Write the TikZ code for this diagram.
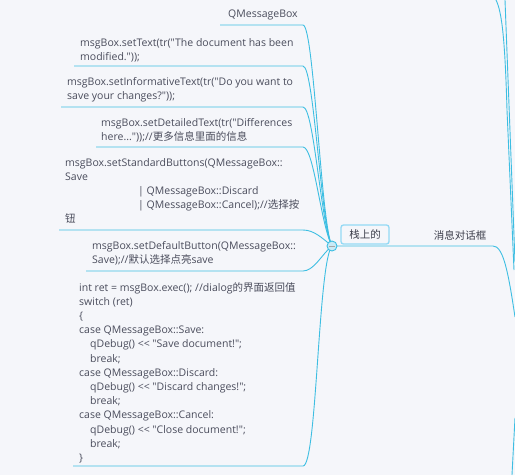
\documentclass[tikz,border=0pt]{standalone}
\usepackage{fontspec}
\setmainfont{Open Sans}[Ligatures=TeXOff]
\newfontfamily\cjk{Noto Sans CJK SC}
\newcommand\zh[1]{{\cjk #1}}
\definecolor{bgc}{HTML}{F5F6FA}
\definecolor{linec}{HTML}{3DBEE2}
\definecolor{textc}{HTML}{4A4C5C}
\definecolor{boxc}{HTML}{93D9F5}
\definecolor{jfill}{HTML}{C9EAF6}
\begin{document}
\begin{tikzpicture}[x=1pt,y=-1pt,
  txt/.style={anchor=north west, inner sep=0pt, align=left, font=\fontsize{10.5}{14.2}\selectfont, text=textc},
  link/.style={draw=linec, line width=0.9pt},
  topic/.style={draw=boxc, line width=1.3pt, rounded corners=2.5pt, minimum width=48pt, minimum height=19pt, inner sep=0pt, font=\cjk\fontsize{10.5}{12}\selectfont, text=textc!80!black},
  plain/.style={inner sep=0pt, font=\cjk\fontsize{10.5}{12}\selectfont, text=textc!80!black}]
\useasboundingbox (0,0) rectangle (515,475);
\fill[bgc] (0,0) rectangle (515,475);

% text blocks
\node[txt] (n1) at (228,9.5) {QMessageBox};
\node[txt] (n2) at (80,38) {msgBox.setText(tr("The document has been\\modified."));};
\node[txt] (n3) at (67,77) {msgBox.setInformativeText(tr("Do you want to\\save your changes?"));};
\node[txt] (n4) at (101,118) {msgBox.setDetailedText(tr("Differences\\here..."));//\zh{更多信息里面的信息}};
\node[txt] (n5) at (65,158) {msgBox.setStandardButtons(QMessageBox::\\Save\\\hspace*{73pt}| QMessageBox::Discard\\\hspace*{73pt}| QMessageBox::Cancel);//\zh{选择按}\\\zh{钮}};
\node[txt] (n6) at (92,241) {msgBox.setDefaultButton(QMessageBox::\\Save);//\zh{默认选择点亮}save};
\node[txt] (n7) at (79,282) {int ret = msgBox.exec(); //dialog\zh{的界面返回值}\\switch (ret)\\\{\\case QMessageBox::Save:\\\hspace*{11pt}qDebug() {<}{<} "Save document!";\\\hspace*{11pt}break;\\case QMessageBox::Discard:\\\hspace*{11pt}qDebug() {<}{<} "Discard changes!";\\\hspace*{11pt}break;\\case QMessageBox::Cancel:\\\hspace*{11pt}qDebug() {<}{<} "Close document!";\\\hspace*{11pt}break;\\\}};

% underline coordinates
\coordinate (J) at (332,246);
\coordinate (u1s) at (220,25);  \coordinate (u1e) at (303,25);
\coordinate (u2s) at (74,66);   \coordinate (u2e) at (303,66);
\coordinate (u3s) at (61,107);  \coordinate (u3e) at (303,107);
\coordinate (u4s) at (96,147);  \coordinate (u4e) at (303,147);
\coordinate (u5s) at (59,230);  \coordinate (u5e) at (303,230);
\coordinate (u6s) at (86,271);  \coordinate (u6e) at (303,271);
\coordinate (u7s) at (73,466);  \coordinate (u7e) at (303,466);

\foreach \i in {1,2,3,4}{
  \draw[link] (u\i s) -- (u\i e) .. controls +(11,0) and (321,226) .. (J);
}
\draw[link] (u5s) -- (u5e) .. controls +(11,0) and (322,238) .. (J);
\draw[link] (u6s) -- (u6e) .. controls +(11,0) and (322,254) .. (J);
\draw[link] (u7s) -- (u7e) .. controls +(14,0) and (318,262) .. (J);

% right side
\coordinate (r1) at (493,246);
\coordinate (r2) at (515,317);
\draw[link] (J) -- (r1) .. controls +(10,0) and (508,270) .. (r2);

\coordinate (t1) at (496,0); \coordinate (t1e) at (514,270);
\coordinate (t2) at (505,0); \coordinate (t2e) at (515,262);
\draw[link] (t1) .. controls (502,12) and (505,40) .. (507,110) -- (t1e);
\draw[link] (t2) -- (t2e);
\coordinate (b1) at (512,475); \coordinate (b1e) at (515,418);
\draw[link] (b1) -- (b1e);

% junction
\node[circle, draw=linec, fill=jfill, line width=0.9pt, minimum size=10pt, inner sep=0pt] (jc) at (J) {};
\draw[gray!70, line width=0.8pt] ([xshift=-3pt]jc.center) -- ([xshift=3pt]jc.center);

% topics
\node[topic] (stack) at (365,234.5) {栈上的};
\node[plain] (msg) at (460,235) {消息对话框};
\end{tikzpicture}
\end{document}
